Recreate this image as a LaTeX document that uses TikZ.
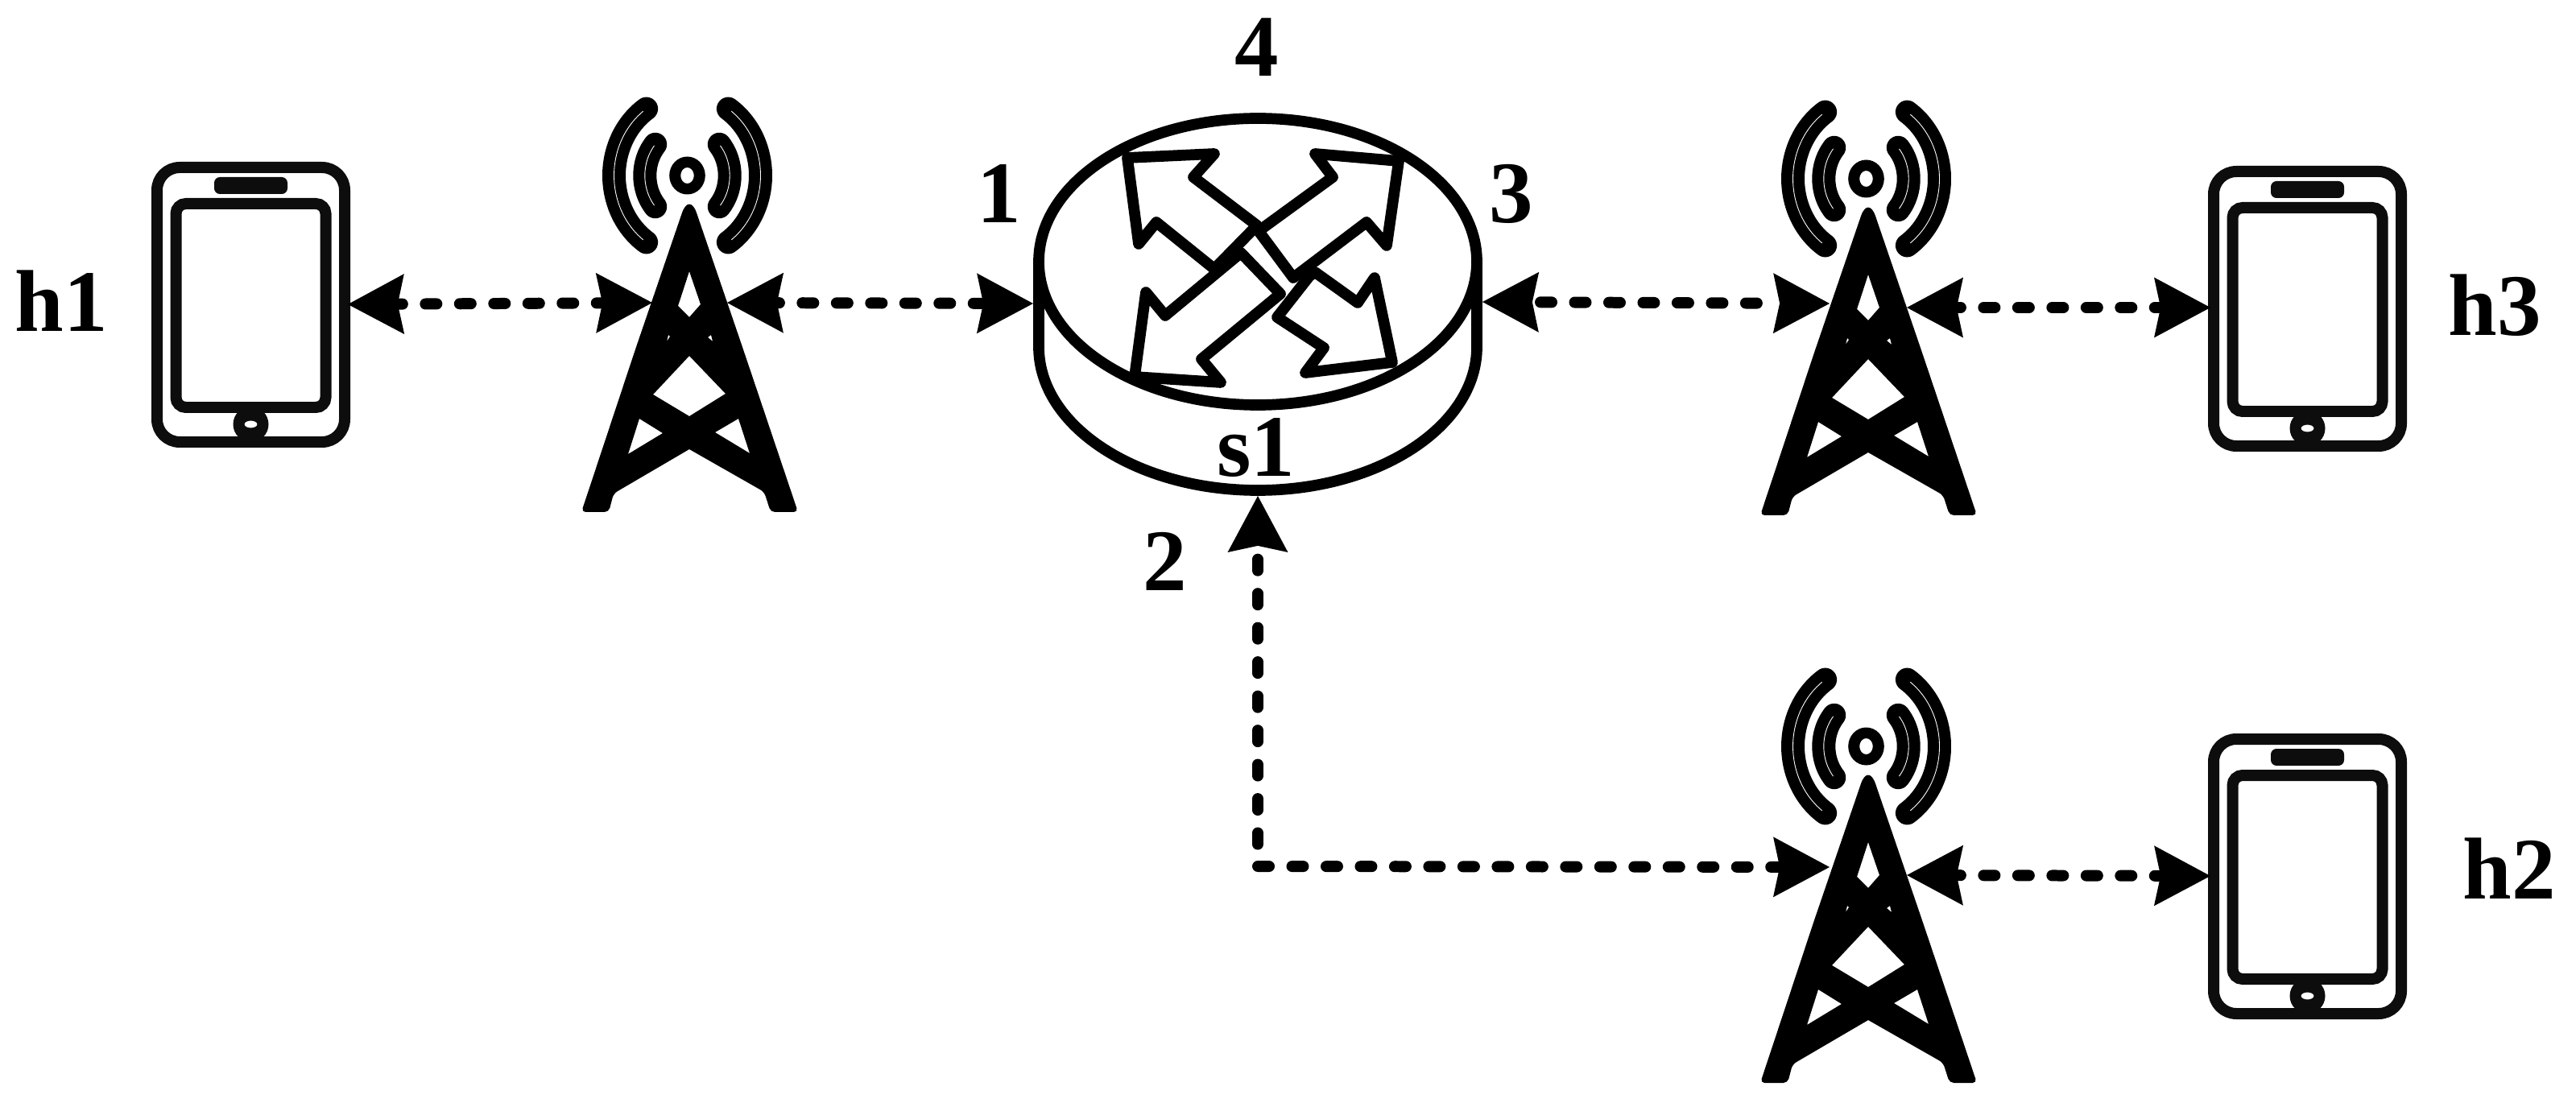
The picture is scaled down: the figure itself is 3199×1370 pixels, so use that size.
\documentclass[tikz,border=0pt]{standalone}
\usepackage{xcolor}
\usepackage{fontspec}
\usepackage{tikz}
\usetikzlibrary{arrows.meta}
\setmainfont{Liberation Serif}

\definecolor{phoneGray}{RGB}{13, 13, 13}

\tikzset{
  netTip/.tip = {Stealth[length = 19.9pt, width = 21.3pt, inset = 2.3pt, line width = 0pt]},
  lbl/.style = {inner sep = 0pt, anchor = base, font = \fontsize{31}{37}\selectfont\bfseries},
  wire/.style = {line width = 3.98pt, line cap = round, dash pattern = on 3.98pt off 8.1pt},
  wave/.style = {line width = 8.25pt, line cap = round},
  hair/.style = {line width = 0.25pt, white},
  tower/.pic = {
    \fill[even odd rule] (-67,185) [rounded corners = 8pt] -- (0,-11) -- (67,185)
      [rounded corners = 1.5pt] -- (135,387) -- (101,387) -- (93,362) [sharp corners] -- (0,309)
      [rounded corners = 1.5pt] -- (-94,364) -- (-100,387) -- (-134,387) -- cycle
      [sharp corners]
      (0,88) -- (14,129) -- (0,145) -- (-14,131) -- cycle
      (-28,175) -- (-26,167) -- (-24,169) -- cycle
      (29,175) -- (27,167) -- (23,170) -- cycle
      (0,193) -- (45,240) -- (0,268) -- (-45,241) -- cycle
      (-62,271) -- (-33,289) -- (-76,315) -- cycle
      (61,271) -- (32,288) -- (75,314) -- cycle;
    \fill[even odd rule] (-2.5,-31) ellipse [x radius = 22.3, y radius = 23.5]
      (-2.5,-31) ellipse [x radius = 8.3, y radius = 10];
    \foreach \s in {1, -1} {
      \draw[wave] plot[domain = 124:236, samples = 40] ({-2.5 + \s*91*cos(\x)}, {-31 + 100*sin(\x)});
      \draw[wave] plot[domain = 139:221, samples = 30] ({-2.5 + \s*52.7*cos(\x)}, {-31 + 59*sin(\x)});
      \draw[hair] plot[domain = 127:233, samples = 40] ({-2.5 + \s*91*cos(\x)}, {-31 + 100*sin(\x)});
      \draw[hair] plot[domain = 141:219, samples = 30] ({-2.5 + \s*52.7*cos(\x)}, {-31 + 59*sin(\x)});
    }
  },
  phone/.pic = {
    \draw[phoneGray, line width = 3.98pt, rounded corners = 8pt] (-116.5,-170.5) rectangle (116.5,170.5);
    \draw[phoneGray, line width = 3.98pt, rounded corners = 3.5pt] (-93,-125.5) rectangle (93,127.5);
    \fill[phoneGray, rounded corners = 2pt] (-45.5,-158.5) rectangle (45.5,-137.5);
    \fill[phoneGray, even odd rule] (0,148.5) ellipse [x radius = 22, y radius = 22]
      (0,148.5) ellipse [x radius = 8, y radius = 4.5];
  },
}

\begin{document}
\begin{tikzpicture}[x = 0.01cm, y = -0.01cm]
  \useasboundingbox (0,0) rectangle (3199,1370);

  \coordinate (H1E) at (432,378);
  \coordinate (T1W) at (810,376);
  \coordinate (T1E) at (903,376);
  \coordinate (S1W) at (1283,377);
  \coordinate (S1E) at (1841,375);
  \coordinate (S1S) at (1562,616);
  \coordinate (T3W) at (2272,377);
  \coordinate (T3E) at (2368,382);
  \coordinate (H3W) at (2745,382);
  \coordinate (T2W) at (2272,1077);
  \coordinate (T2E) at (2368,1087);
  \coordinate (H2W) at (2745,1088);
  \coordinate (Bend) at (1562,1076);

  \pic (h1) at (311.5,378.5) {phone};
  \pic (h3) at (2865.5,383.5) {phone};
  \pic (h2) at (2865.5,1088.5) {phone};

  \pic (t1) at (856,249) {tower};
  \pic (t3) at (2320,253) {tower};
  \pic (t2) at (2320,958) {tower};

  \begin{scope}[shift = {(1562,325)}, line width = 3.9pt, line join = round]
    \draw (-272,0) -- (-272,106) arc [start angle = 180, end angle = 0, x radius = 272, y radius = 178] -- (272,0);
    \draw (0,0) ellipse [x radius = 272, y radius = 178];
    \draw (-1,-45) -- (-80,-105) -- (-54,-134) -- (-162,-129) -- (-148,-22) -- (-126,-49) -- (-54,9) -- cycle;
    \draw (1,-38) -- (93,-105) -- (71,-134) -- (175,-125) -- (160,-20) -- (135,-49) -- (44,20) -- cycle;
    \draw (71,13) -- (124,51) -- (145,20) -- (167,125) -- (59,138) -- (82,107) -- (24,69) -- (64,18) -- cycle;
    \draw (-21,-11) -- (-115,67) -- (-139,38) -- (-153,143) -- (-46,150) -- (-70,121) -- (28,40) -- cycle;
  \end{scope}

  \draw[wire, netTip-netTip, dash phase = 2.28pt] (H1E) -- (T1W);
  \draw[wire, netTip-netTip, dash phase = 3.13pt] (T1E) -- (S1W);
  \draw[wire, netTip-netTip, dash phase = 9.2pt] (S1E) -- (T3W);
  \draw[wire, netTip-netTip, dash phase = 2.56pt] (T3E) -- (H3W);
  \draw[wire, netTip-netTip, dash phase = 2.56pt] (T2E) -- (H2W);
  \draw[wire, -netTip, dash phase = 4.27pt] (Bend) -- (S1S);
  \draw[wire, -netTip] (Bend) -- (T2W);

  \node[lbl] (h1Label) at (76,412) {h1};
  \node[lbl] (h3Label) at (3098,417) {h3};
  \node[lbl] (h2Label) at (3116,1116) {h2};
  \node[lbl] (s1Label) at (1560,591) {s1};
  \node[lbl] (port1) at (1241,277) {1};
  \node[lbl] (port2) at (1447,733) {2};
  \node[lbl] (port3) at (1877,277) {3};
  \node[lbl] (port4) at (1561,95) {4};
\end{tikzpicture}
\end{document}
